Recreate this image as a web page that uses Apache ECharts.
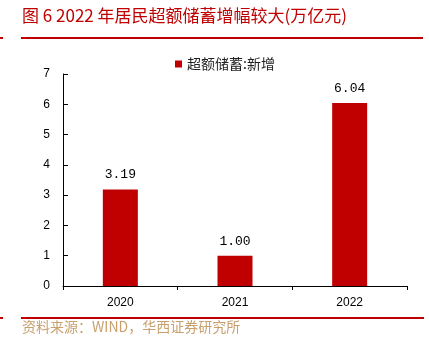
<!DOCTYPE html>
<html><head><meta charset="utf-8">
<script src="https://cdn.jsdelivr.net/npm/echarts@6/dist/echarts.min.js"></script>
<style>html,body{margin:0;padding:0;background:#fff}#c{width:429px;height:347px}</style>
</head><body><div id="c"></div>
<script>
const categories = ['2020', '2021', '2022'];
const values = [3.19, 1.00, 6.04];
const seriesName = '超额储蓄:新增';
const titleText = '图 6 2022 年居民超额储蓄增幅较大(万亿元)';
const sourceText = '资料来源：WIND，华西证券研究所';

const chart = echarts.init(document.getElementById('c'), null, {renderer: 'canvas'});
const red = '#c00000';
chart.setOption({
  animation: false,
  backgroundColor: '#fff',
  graphic: [
    {type: 'text', left: 22, top: 7, style: {text: titleText, fill: red, font: '17px "Noto Sans CJK SC", sans-serif'}},
    {type: 'rect', shape: {x: 21, y: 37, width: 402, height: 2}, style: {fill: red}},
    {type: 'rect', shape: {x: 0, y: 37, width: 3, height: 2}, style: {fill: red}},
    {type: 'rect', shape: {x: 21, y: 317, width: 403, height: 2}, style: {fill: red}},
    {type: 'rect', shape: {x: 0, y: 317, width: 3, height: 2}, style: {fill: red}},
    {type: 'text', left: 22, top: 320, style: {text: sourceText, fill: '#c8a06e', font: '14px "Noto Sans CJK SC", sans-serif'}}
  ],
  legend: {
    top: 52, left: 170, itemWidth: 7, itemHeight: 7, itemGap: 4,
    icon: 'rect',
    textStyle: {fontSize: 14, color: '#222', fontFamily: '"Noto Sans CJK SC", sans-serif'},
    data: [seriesName]
  },
  grid: {left: 63, right: 22, top: 74, bottom: 61, containLabel: false},
  xAxis: {
    type: 'category', data: categories,
    axisLine: {lineStyle: {color: '#000', width: 1}},
    axisTick: {show: true, alignWithLabel: false, length: 4, lineStyle: {color: '#000'}},
    axisLabel: {color: '#000', fontSize: 12, margin: 11, fontFamily: 'Arial, "Liberation Sans", sans-serif'}
  },
  yAxis: {
    type: 'value', min: 0, max: 7, interval: 1,
    axisLine: {show: true, lineStyle: {color: '#000', width: 1}},
    axisTick: {show: true, inside: true, length: 5, lineStyle: {color: '#000'}},
    splitLine: {show: false},
    axisLabel: {color: '#000', fontSize: 12, margin: 13, fontFamily: 'Arial, "Liberation Sans", sans-serif'}
  },
  series: [{
    name: seriesName, type: 'bar', data: values, barWidth: 35,
    itemStyle: {color: red},
    label: {show: true, position: 'top', distance: 8, color: '#000', fontSize: 13,
      fontFamily: '"Liberation Mono", monospace',
      formatter: p => p.value.toFixed(2)}
  }]
});
</script></body></html>
